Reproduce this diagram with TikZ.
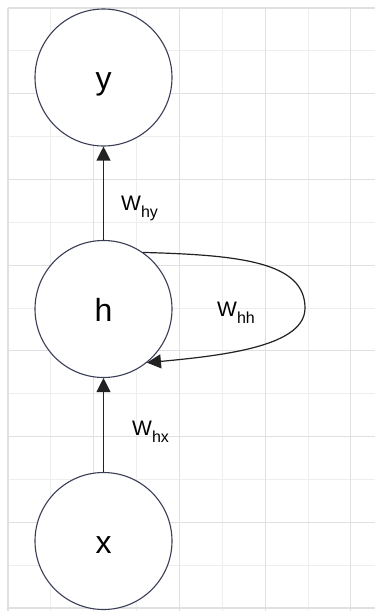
\documentclass[tikz,border=0pt]{standalone}
\usepackage{fontspec}
\setmainfont{Liberation Sans}
\usetikzlibrary{arrows.meta}
\definecolor{gridminor}{HTML}{EEEEEE}
\definecolor{gridmajor}{HTML}{E0E0E0}
\definecolor{circ}{HTML}{3A3F55}
\definecolor{conncol}{HTML}{222222}
\newcommand\wsub[1]{\raisebox{-7pt}{\fontsize{16}{16}\selectfont #1}}
\begin{document}
\begin{tikzpicture}[x=1pt,y=-1pt,
  neuron/.style={circle, draw=circ, fill=white, line width=1.1pt, minimum size=137pt, inner sep=0pt,
    font=\fontsize{32}{32}\selectfont, text height=24pt, text depth=0pt},
  conn/.style={draw=conncol, line width=1.2pt, -{Triangle[width=14pt,length=14pt]}},
  wlabel/.style={anchor=base west, inner sep=0pt, font=\fontsize{21}{21}\selectfont},
  minorline/.style={draw=gridminor, line width=1pt},
  majorline/.style={draw=gridmajor, line width=1.2pt}]
\useasboundingbox (0,0) rectangle (375,611);
\fill[white] (0,0) rectangle (375,611);
% grid
\foreach \i in {1,3,5,7} {
  \draw[minorline] ({8+\i*42.857},8) -- ({8+\i*42.857},611);
}
\foreach \j in {1,3,...,13} {
  \draw[minorline] (8,{8+\j*42.857}) -- (375,{8+\j*42.857});
}
\foreach \i in {0,2,4,6,8} {
  \draw[majorline] ({8+\i*42.857},8) -- ({8+\i*42.857},611);
}
\foreach \j in {0,2,...,14} {
  \draw[majorline] (8,{8+\j*42.857}) -- (375,{8+\j*42.857});
}
% nodes
\node[neuron] (y) at (103.5,77.5) {y};
\node[neuron] (h) at (103.5,309) {h};
\node[neuron] (x) at (103.5,541) {x};
% connectors
\draw[conn] (h) -- (y);
\draw[conn] (x) -- (h);
\draw[conn] (h.55) .. controls (240,255) and (305,262) .. (305,308)
  .. controls (305,345) and (230,355) .. (h.-51);
% labels
\node[wlabel] (lhy) at (121,210) {W\wsub{hy}};
\node[wlabel] (lhh) at (217,316) {W\wsub{hh}};
\node[wlabel] (lhx) at (132,435) {W\wsub{hx}};
\end{tikzpicture}
\end{document}
